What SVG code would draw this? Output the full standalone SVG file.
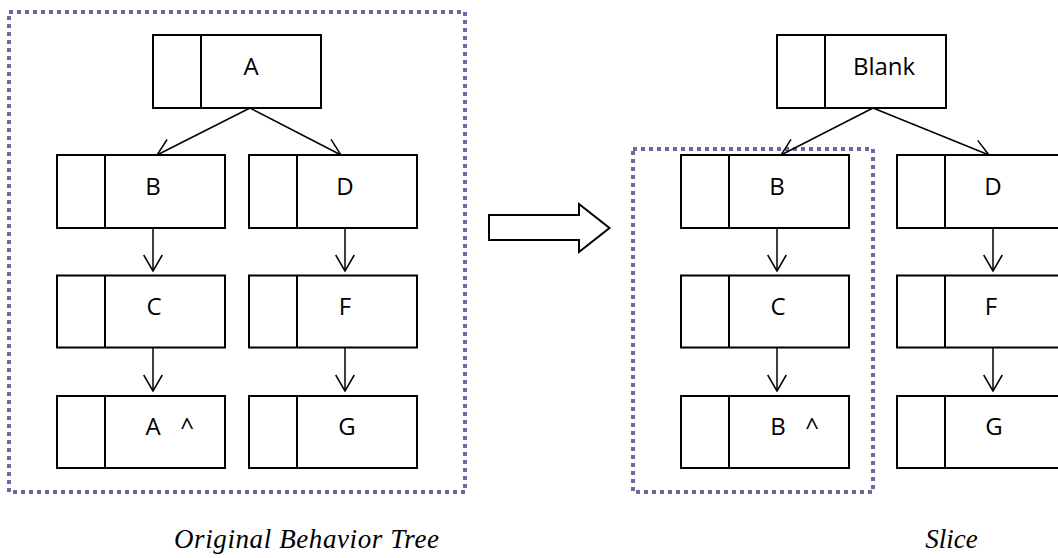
<svg xmlns="http://www.w3.org/2000/svg" width="1058" height="558" viewBox="0 0 1058 558">
<style>
.box{fill:#fff;stroke:#000;stroke-width:2}
.div{stroke:#000;stroke-width:2}
.lbl{font-family:"Open Sans","Noto Sans",sans-serif;font-size:24px;fill:#000;text-anchor:middle}
.edge{stroke:#000;stroke-width:1.5;fill:none;marker-end:url(#v)}
.dot{fill:none;stroke:#6A6AA0;stroke-width:4;stroke-dasharray:4 4}
.cap{font-family:"Liberation Serif",serif;font-style:italic;font-size:27px;fill:#000;text-anchor:middle}
</style>
<defs>
<marker id="v" markerUnits="userSpaceOnUse" markerWidth="40" markerHeight="40" refX="0" refY="0" viewBox="-20 -20 40 40" orient="auto" overflow="visible">
<path d="M-16,-9.3 L0,0 L-16,9.3" fill="none" stroke="#000" stroke-width="1.5"/>
</marker>
</defs>
<g id="frames">
<rect class="dot" x="9" y="12" width="456" height="480"/>
<rect class="dot" x="633" y="149" width="240" height="343"/>
</g>
<g id="connectors">
<line class="edge" x1="250" y1="108" x2="157" y2="155"/>
<line class="edge" x1="250" y1="108" x2="341" y2="155"/>
<line class="edge" x1="153" y1="228" x2="153" y2="271"/>
<line class="edge" x1="153" y1="347.5" x2="153" y2="391"/>
<line class="edge" x1="345" y1="228" x2="345" y2="271"/>
<line class="edge" x1="345" y1="347.5" x2="345" y2="391"/>
<line class="edge" x1="873" y1="108" x2="781" y2="155"/>
<line class="edge" x1="873" y1="108" x2="989" y2="155"/>
<line class="edge" x1="777" y1="228" x2="777" y2="271"/>
<line class="edge" x1="777" y1="347.5" x2="777" y2="391"/>
<line class="edge" x1="993" y1="228" x2="993" y2="271"/>
<line class="edge" x1="993" y1="347.5" x2="993" y2="391"/>
</g>
<g id="nodeA"><rect class="box" x="153" y="35" width="168" height="73"/><line class="div" x1="201" y1="35" x2="201" y2="108"/><text class="lbl" x="251" y="75">A</text></g>
<g id="nodeB"><rect class="box" x="57" y="155" width="168" height="73"/><line class="div" x1="105" y1="155" x2="105" y2="228"/><text class="lbl" x="153" y="195">B</text></g>
<g id="nodeD"><rect class="box" x="249" y="155" width="168" height="73"/><line class="div" x1="297" y1="155" x2="297" y2="228"/><text class="lbl" x="345" y="195">D</text></g>
<g id="nodeC"><rect class="box" x="57" y="275.5" width="168" height="72"/><line class="div" x1="105" y1="275.5" x2="105" y2="347.5"/><text class="lbl" x="154" y="315">C</text></g>
<g id="nodeF"><rect class="box" x="249" y="275.5" width="168" height="72"/><line class="div" x1="297" y1="275.5" x2="297" y2="347.5"/><text class="lbl" x="345" y="315">F</text></g>
<g id="nodeA2"><rect class="box" x="57" y="396" width="168" height="72"/><line class="div" x1="105" y1="396" x2="105" y2="468"/><text class="lbl" x="153" y="435">A</text><text class="lbl" x="187" y="435">^</text></g>
<g id="nodeG"><rect class="box" x="249" y="396" width="168" height="72"/><line class="div" x1="297" y1="396" x2="297" y2="468"/><text class="lbl" x="347" y="435">G</text></g>
<g id="arrowBig"><polygon points="489,215 579,215 579,204 609.5,228 579,252 579,240 489,240" fill="#fff" stroke="#000" stroke-width="2"/></g>
<g id="nodeBlank"><rect class="box" x="777" y="35" width="169" height="73"/><line class="div" x1="825" y1="35" x2="825" y2="108"/><text class="lbl" x="884" y="75">Blank</text></g>
<g id="nodeB_s"><rect class="box" x="681" y="155" width="168" height="73"/><line class="div" x1="729" y1="155" x2="729" y2="228"/><text class="lbl" x="777" y="195">B</text></g>
<g id="nodeD_s"><rect class="box" x="897" y="155" width="168" height="73"/><line class="div" x1="945" y1="155" x2="945" y2="228"/><text class="lbl" x="993" y="195">D</text></g>
<g id="nodeC_s"><rect class="box" x="681" y="275.5" width="168" height="72"/><line class="div" x1="729" y1="275.5" x2="729" y2="347.5"/><text class="lbl" x="778" y="315">C</text></g>
<g id="nodeF_s"><rect class="box" x="897" y="275.5" width="168" height="72"/><line class="div" x1="945" y1="275.5" x2="945" y2="347.5"/><text class="lbl" x="991" y="315">F</text></g>
<g id="nodeB2_s"><rect class="box" x="681" y="396" width="168" height="72"/><line class="div" x1="729" y1="396" x2="729" y2="468"/><text class="lbl" x="778" y="435">B</text><text class="lbl" x="812" y="435">^</text></g>
<g id="nodeG_s"><rect class="box" x="897" y="396" width="168" height="72"/><line class="div" x1="945" y1="396" x2="945" y2="468"/><text class="lbl" x="994" y="435">G</text></g>
<g id="captions">
<text class="cap" x="306.5" y="548" textLength="265" lengthAdjust="spacing">Original Behavior Tree</text>
<text class="cap" x="951.5" y="548">Slice</text>
</g>
</svg>
